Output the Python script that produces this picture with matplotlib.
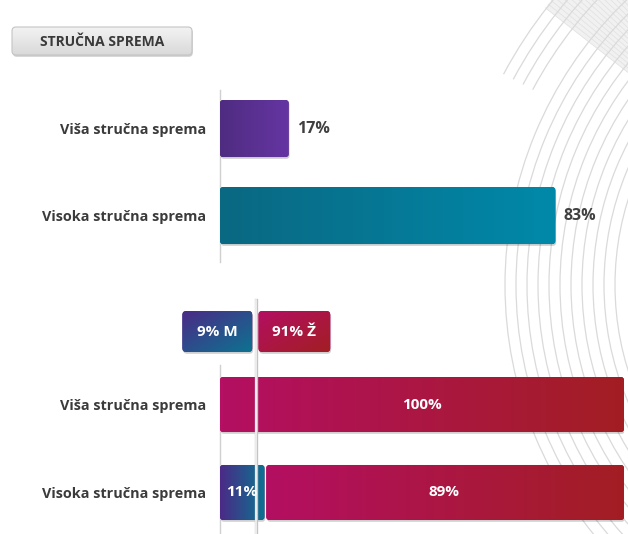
import numpy as np
import matplotlib
matplotlib.use('Agg')
import matplotlib.pyplot as plt
import matplotlib.patheffects as pe
from matplotlib.patches import FancyBboxPatch, Arc, Wedge
from matplotlib.colors import LinearSegmentedColormap

plt.rcParams['font.family'] = ['Open Sans', 'DejaVu Sans']
plt.rcParams['font.weight'] = 'bold'

W, H = 628, 534

title = 'STRUČNA SPREMA'
categories = ['Viša stručna sprema', 'Visoka stručna sprema']

# top chart: share of each qualification level
share = [17, 83]
share_colors = [('#4f2c80', '#6535a3'), ('#0a6882', '#0189aa')]

# bottom chart: gender split inside each level
male_pct = [0, 11]
female_pct = [100, 89]
male_total = 9
female_total = 91
male_colors = ('#4b2a86', '#0c7391')
female_colors = ('#b40f62', '#a21e23')

fig = plt.figure(figsize=(W / 100, H / 100), dpi=100)


def fig_rect(x0, y0, x1, y1):
    # pixel box (origin top-left) -> figure fraction
    return [x0 / W, 1 - y1 / H, (x1 - x0) / W, (y1 - y0) / H]


def gradient_box(ax, x, y, w, h, c0, c1, rpx, sx, sy, mode='h', shadow=True, z=3):
    # sx, sy = pixels per data unit, y axis is inverted everywhere
    aspect = sx / sy
    r = rpx / sx
    style = f'round,pad=0,rounding_size={r}'
    if shadow:
        ax.add_patch(FancyBboxPatch((x + 0.8 / sx, y + 1.8 / sy), w, h, boxstyle=style,
                                    mutation_aspect=aspect, fc='#00000030', ec='none',
                                    zorder=z - 0.2))
    base = FancyBboxPatch((x, y), w, h, boxstyle=style, mutation_aspect=aspect,
                          fc=c0, ec='none', zorder=z - 0.1)
    ax.add_patch(base)
    cmap = LinearSegmentedColormap.from_list('g', [c0, c1])
    t = np.linspace(0, 1, 128)
    if mode == 'h':
        grad = t.reshape(1, -1)
    elif mode == 'v':
        grad = t.reshape(-1, 1)
    else:
        grad = (t[None, :] + t[:, None]) / 2
    im = ax.imshow(grad, cmap=cmap, extent=(x, x + w, y + h, y), aspect='auto',
                   interpolation='bilinear', zorder=z)
    im.set_clip_path(base)
    return base


# background layer in pixel coords
bg = fig.add_axes([0, 0, 1, 1], zorder=0)
bg.axis('off')

cx, cy = 900, 285
# shaded fan in the top-right corner
bg.add_patch(Wedge((cx, cy), 450, 180 + 38, 180 + 70, width=170, fc='#f1f1f1', ec='none', zorder=0))
for a in np.arange(38, 70, 0.6):
    p = np.deg2rad(a)
    rr = np.array([280, 450])
    bg.plot(cx - rr * np.cos(p), cy - rr * np.sin(p), color='#e0e0e0', lw=0.5, zorder=0)
for r in range(285, 406, 11):
    bg.add_patch(Arc((cx, cy), 2 * r, 2 * r, theta1=0, theta2=360,
                     color='#dadada', lw=0.9, zorder=0))
# outer arcs only in the upper-left part
for r in (416, 427, 438, 449):
    bg.add_patch(Arc((cx, cy), 2 * r, 2 * r, theta1=208, theta2=250,
                     color='#dadada', lw=0.9, zorder=0))

# title button
gradient_box(bg, 12, 27, 180, 28, '#f3f3f3', '#d9d9d9', 4, 1, 1, mode='v', z=3)
bg.add_patch(FancyBboxPatch((12, 27), 180, 28, boxstyle='round,pad=0,rounding_size=4',
                            fc='none', ec='#c4c4c4', lw=0.8, zorder=4))
bg.text(102, 41.5, title, ha='center', va='center', fontsize=10, color='#3a3a3a', zorder=5)

# ---- top chart
ax1 = fig.add_axes(fig_rect(220, 90, 624, 262), zorder=1)
ax1.set_xlim(0, 100)
ax1.set_ylim(1.534, -0.443)
sx1 = 404 / 100
sy1 = 172 / 1.977
bh1 = 0.655
for i, v in enumerate(share):
    gradient_box(ax1, 0, i - bh1 / 2, v, bh1, share_colors[i][0], share_colors[i][1], 3, sx1, sy1)
    ax1.text(v + 2.1, i, f'{v}%', va='center', ha='left', fontsize=11.5, color='#404040')

# ---- bottom chart
ax2 = fig.add_axes(fig_rect(220, 365, 624, 534), zorder=1)
ax2.set_xlim(0, 100)
ax2.set_ylim(1.472, -0.449)
sx2 = 404 / 100
sy2 = 169 / 1.921
bh2 = 0.625
for i in range(len(categories)):
    m, f = male_pct[i], female_pct[i]
    gap = 0.45 if m else 0
    if m:
        gradient_box(ax2, 0, i - bh2 / 2, m, bh2, male_colors[0], male_colors[1], 3, sx2, sy2)
        ax2.text(m / 2, i, f'{m}%', va='center', ha='center', fontsize=11, color='white', zorder=7)
    gradient_box(ax2, m + gap, i - bh2 / 2, f - gap, bh2, female_colors[0], female_colors[1],
                 3, sx2, sy2)
    ax2.text(m + f / 2, i, f'{f}%', va='center', ha='center', fontsize=11, color='white', zorder=7)

ax2.axvline(male_total, ymin=0, ymax=(534 - 300) / 169, clip_on=False, color='#f4f4f4', lw=1.2,
            zorder=6, path_effects=[pe.Stroke(linewidth=2.4, foreground='#c4c4c4'), pe.Normal()])

for ax in (ax1, ax2):
    ax.set_xlim(0, 100)
    ax.set_facecolor('none')
    ax.set_xticks([])
    ax.set_yticks(range(len(categories)), categories)
    ax.tick_params(axis='y', length=0, pad=10, labelsize=10.4, labelcolor='#3b3b3b')
    for s in ('top', 'right', 'bottom'):
        ax.spines[s].set_visible(False)
    ax.spines['left'].set_color('#d0d0d0')
    ax.spines['left'].set_linewidth(1)
ax1.set_ylim(1.534, -0.443)
ax2.set_ylim(1.472, -0.449)

# M / Ž summary tags sitting on the split line
line_px = 220 + male_total * sx2
gradient_box(bg, line_px - 74, 311, 70, 41, male_colors[0], male_colors[1], 4, 1, 1, mode='d', z=3)
bg.text(line_px - 39, 331.5, f'{male_total}% M', ha='center', va='center', fontsize=11,
        color='white', zorder=5)
gradient_box(bg, line_px + 2, 311, 72, 41, female_colors[0], female_colors[1], 4, 1, 1, mode='d', z=3)
bg.text(line_px + 38, 331.5, f'{female_total}% Ž', ha='center', va='center', fontsize=11,
        color='white', zorder=5)

bg.set_xlim(0, W)
bg.set_ylim(H, 0)

fig.savefig('out.png', dpi=100)
